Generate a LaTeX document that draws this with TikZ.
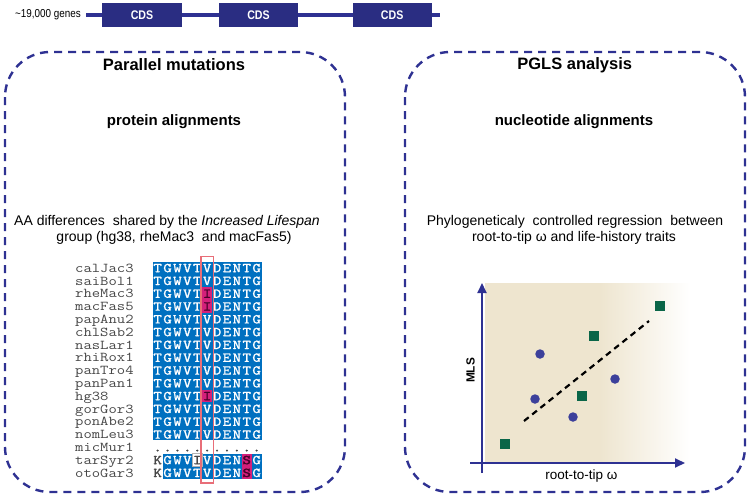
\documentclass[tikz,border=0pt]{standalone}
\usepackage{fontspec}
\setmainfont{Liberation Sans}
\newfontfamily\seqfont{lmmono10-regular.otf}[FakeBold=1.2]
\usepackage{graphicx}
\usetikzlibrary{arrows.meta}
\definecolor{navy}{RGB}{46,49,146}
\definecolor{cdsblue}{RGB}{42,45,130}
\definecolor{alnblue}{RGB}{0,112,192}
\definecolor{alnmag}{RGB}{212,32,122}
\definecolor{magtxt}{RGB}{70,0,40}
\definecolor{redbox}{RGB}{232,110,120}
\definecolor{plottan}{RGB}{238,229,207}
\definecolor{ptblue}{RGB}{60,64,155}
\definecolor{ptgreen}{RGB}{10,102,72}
\definecolor{namegray}{RGB}{70,70,70}
\tikzset{
  dbox/.style={draw=navy, line width=2.4pt, dash pattern=on 8pt off 6pt, rounded corners=45pt},
  cds/.style={fill=cdsblue, draw=none, minimum width=79.4pt, minimum height=24pt, inner sep=0pt, text=white, font=\fontsize{12.5}{14}\selectfont\bfseries},
  title/.style={inner sep=0pt, font=\fontsize{16.5}{18}\selectfont\bfseries},
  subtitle/.style={inner sep=0pt, font=\fontsize{15}{17}\selectfont\bfseries},
  bodytxt/.style={inner sep=0pt, font=\fontsize{14}{16}\selectfont},
  spname/.style={anchor=base west, inner sep=0pt, text=namegray, font=\fontsize{13.5}{14}\selectfont\ttfamily},
  seqch/.style={anchor=base, inner sep=0pt, text=white, font=\fontsize{13.5}{14}\selectfont\seqfont},
  axis/.style={draw=navy, line width=2pt, -{Triangle[length=10pt,width=9pt]}},
  circpt/.style={circle, fill=ptblue, minimum size=9.5pt, inner sep=0pt},
  sqpt/.style={rectangle, fill=ptgreen, minimum size=9.5pt, inner sep=0pt},
}
\newcommand\seqrow[3]{%
  \foreach \ch [count=\i] in {#3}{%
    \node[seqch] (s#1-\i) at ({152.7+9.9*(\i-0.5)},{#2+4.2}) {\scalebox{1.2}[1]{\ch}};}}
\begin{document}
\begin{tikzpicture}[x=1pt,y=-1pt]
\useasboundingbox (0,0) rectangle (750,498);
% gene model
\coordinate (gL) at (86,14.7);
\coordinate (gR) at (440,14.7);
\draw[navy, line width=4pt] (gL) -- (gR);
\node[cds] (c1) at (142,14.7) {\scalebox{0.85}[1]{CDS}};
\node[cds] (c2) at (258.5,14.7) {\scalebox{0.85}[1]{CDS}};
\node[cds] (c3) at (392.2,14.7) {\scalebox{0.85}[1]{CDS}};
\node[inner sep=0pt, font=\fontsize{11.5}{13}\selectfont] (genes) at (48,14.5) {\scalebox{0.86}[1]{\textasciitilde 19,000 genes}};
% panels
\draw[dbox] (5,52) rectangle (345,492);
\draw[dbox] (405,52) rectangle (745,492);
\node[title] (t1) at (174,65) {Parallel mutations};
\node[subtitle] (s1) at (174,121.7) {protein alignments};
\node[bodytxt] (d1a) at (167,222.3) {AA differences\ \ shared by the \textit{Increased Lifespan}};
\node[bodytxt] (d1b) at (174,238.3) {group (hg38, rheMac3\ \ and macFas5)};
\node[title] (t2) at (574.7,65) {PGLS analysis};
\node[subtitle] (s2) at (574,121.7) {nucleotide alignments};
\node[bodytxt] (d2a) at (575,222.3) {Phylogeneticaly\ \ controlled regression\ \ between};
\node[bodytxt] (d2b) at (574,238.3) {root-to-tip ω and life-history traits};
% alignment backgrounds
\fill[alnblue] (152.7,261.6) rectangle (261.6,440.4);
\fill[alnblue] (162.6,453.6) rectangle (261.6,479.2);
\fill[white] (192.3,453.6) rectangle (202.2,466.4);
\draw[gray!60, line width=0.5pt] (192.3,453.6) rectangle (202.2,466.4);
\foreach \r in {2,3,10}{\fill[alnmag] (202.2,{261.6+12.8*\r}) rectangle (212.1,{274.4+12.8*\r});}
\fill[alnmag] (241.8,453.6) rectangle (251.7,479.2);
% species names
\foreach \nm [count=\k from 0] in {calJac3,saiBol1,rheMac3,macFas5,papAnu2,chlSab2,nasLar1,rhiRox1,panTro4,panPan1,hg38,gorGor3,ponAbe2,nomLeu3,micMur1,tarSyr2,otoGar3}{%
  \node[spname] (n\k) at (75,{268+12.8*\k+4.2}) {\scalebox{1.2}[1]{\nm}};}
% sequences
\seqrow{0}{268}{T,G,W,V,T,V,D,E,N,T,G}
\seqrow{1}{280.8}{T,G,W,V,T,V,D,E,N,T,G}
\seqrow{2}{293.6}{T,G,W,V,T,{\textcolor{magtxt}{I}},D,E,N,T,G}
\seqrow{3}{306.4}{T,G,W,V,T,{\textcolor{magtxt}{I}},D,E,N,T,G}
\seqrow{4}{319.2}{T,G,W,V,T,V,D,E,N,T,G}
\seqrow{5}{332}{T,G,W,V,T,V,D,E,N,T,G}
\seqrow{6}{344.8}{T,G,W,V,T,V,D,E,N,T,G}
\seqrow{7}{357.6}{T,G,W,V,T,V,D,E,N,T,G}
\seqrow{8}{370.4}{T,G,W,V,T,V,D,E,N,T,G}
\seqrow{9}{383.2}{T,G,W,V,T,V,D,E,N,T,G}
\seqrow{10}{396}{T,G,W,V,T,{\textcolor{magtxt}{I}},D,E,N,T,G}
\seqrow{11}{408.8}{T,G,W,V,T,V,D,E,N,T,G}
\seqrow{12}{421.6}{T,G,W,V,T,V,D,E,N,T,G}
\seqrow{13}{434.4}{T,G,W,V,T,V,D,E,N,T,G}
\seqrow{14}{447.2}{{\textcolor{namegray}{.}},{\textcolor{namegray}{.}},{\textcolor{namegray}{.}},{\textcolor{namegray}{.}},{\textcolor{namegray}{.}},{\textcolor{namegray}{.}},{\textcolor{namegray}{.}},{\textcolor{namegray}{.}},{\textcolor{namegray}{.}},{\textcolor{namegray}{.}},{\textcolor{namegray}{.}}}
\seqrow{15}{460}{{\textcolor{namegray}{K}},G,W,V,{\textcolor{namegray}{I}},V,D,E,N,{\textcolor{magtxt}{S}},G}
\seqrow{16}{472.8}{{\textcolor{namegray}{K}},G,W,V,T,V,D,E,N,{\textcolor{magtxt}{S}},G}
% highlight column
\draw[redbox, line width=1.2pt] (201,256.7) rectangle (213.3,483);
% plot
\fill[plottan] (485,283) rectangle (600,463);
\shade[left color=plottan, right color=white] (599.5,283) rectangle (690,463);
\coordinate (xa0) at (470,463);
\coordinate (xa1) at (685,463);
\coordinate (ya0) at (482,473);
\coordinate (ya1) at (482,283);
\draw[axis] (xa0) -- (xa1);
\draw[axis] (ya0) -- (ya1);
\node[inner sep=0pt, rotate=90, font=\fontsize{11.8}{13}\selectfont\bfseries] (mls) at (470.5,370.5) {MLS};
\node[inner sep=0pt, font=\fontsize{13.5}{15}\selectfont] (xlab) at (581.5,476) {root-to-tip ω};
\coordinate (r0) at (524,421);
\coordinate (r1) at (649,321);
\draw[black, line width=2.2pt, dash pattern=on 6pt off 4.5pt] (r0) -- (r1);
\node[sqpt] (q1) at (660,306) {};
\node[sqpt] (q2) at (594,336) {};
\node[sqpt] (q3) at (582,396) {};
\node[sqpt] (q4) at (505,444) {};
\node[circpt] (p1) at (540,354) {};
\node[circpt] (p2) at (615,379) {};
\node[circpt] (p3) at (535,399) {};
\node[circpt] (p4) at (573,417) {};
\end{tikzpicture}
\end{document}
